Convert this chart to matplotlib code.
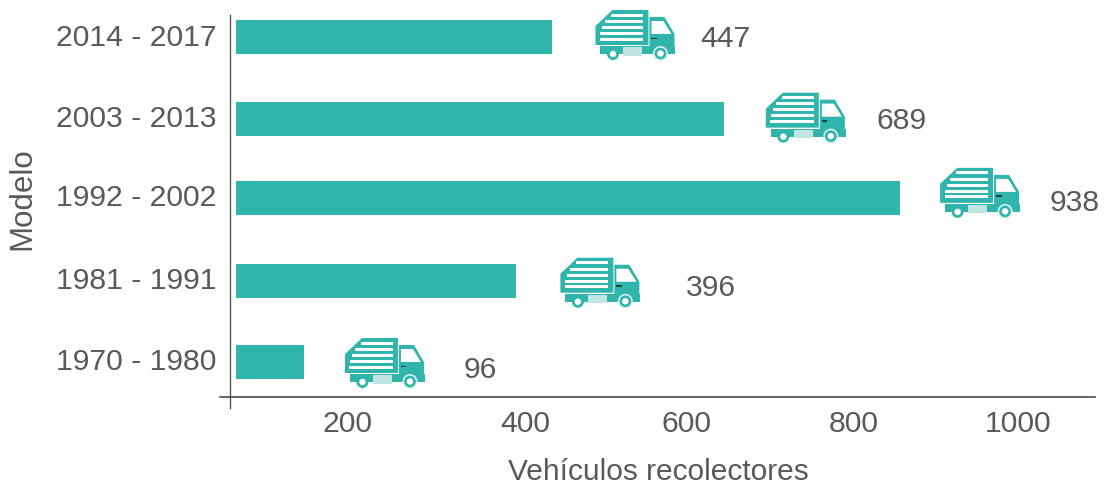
import matplotlib
matplotlib.use("Agg")
import matplotlib.pyplot as plt
from matplotlib.patches import Polygon, Circle, Rectangle
from matplotlib.transforms import Affine2D

# Data
modelos = ["1970 - 1980", "1981 - 1991", "1992 - 2002", "2003 - 2013", "2014 - 2017"]
vehiculos = [96, 396, 938, 689, 447]
tick_labels = ["200", "400", "600", "800", "1000"]
tick_pos = [157, 408, 636, 873, 1105]  # the reference's tick labels sit at these scale positions

# Style / layout (pixels)
W, H = 1104, 484
TEAL = "#2fb5ab"
TXT = "#58595b"
PX_PER_UNIT = 0.708
X_ZERO_PX = 236
truck_dx = [41, 44, 40, 42, 43]
truck_dy = [-24, -23, -30, -26, -27]
label_dx = [176, 195, 175, 178, 173]
label_dy = [5, 4, 2, 0, 1]
bar_slots = [0, 1, 2.02, 2.995, 4]  # slightly uneven vertical spacing in the reference
label_dy = [6, 5, 3, 0, 0]

plt.rcParams["font.family"] = ["Liberation Sans", "DejaVu Sans"]
fig = plt.figure(figsize=(W / 100, H / 100), dpi=100)
L, R, T, B = 220, 1095, 15, 408
ax = fig.add_axes([L / W, 1 - B / H, (R - L) / W, (B - T) / H])
ax.set_xlim((L - X_ZERO_PX) / PX_PER_UNIT, (R - X_ZERO_PX) / PX_PER_UNIT)
YS = 81.25
Y0 = 362
ax.set_ylim((Y0 - B) / YS, (Y0 - T) / YS)
ax.barh(bar_slots, vehiculos, height=34 / YS, color=TEAL, left=0)

for s in ("top", "right"):
    ax.spines[s].set_visible(False)
ax.spines["left"].set_position(("data", (229.8 - X_ZERO_PX) / PX_PER_UNIT))
ax.spines["bottom"].set_position(("data", (Y0 - 397) / YS))
ax.spines["left"].set_color("#4a4a4a")
ax.spines["left"].set_linewidth(0.9)
ax.spines["bottom"].set_color("#4a4a4a")
ax.spines["bottom"].set_linewidth(1.2)

ax.set_yticks(bar_slots, modelos)
ax.set_xticks(tick_pos, tick_labels)
ax.tick_params(axis="y", length=0, pad=9.5, labelsize=21.7, labelcolor=TXT)
ax.tick_params(axis="x", length=0, pad=9.5, labelsize=21.7, labelcolor=TXT)
for t in ax.get_yticklabels():
    t.set_transform(t.get_transform() + Affine2D().translate(0, 2.5))
ax.set_xlabel("Vehículos recolectores", fontsize=21.5, color=TXT, va="center", ha="center")
ax.xaxis.set_label_coords(658 / W, 1 - 472 / H, transform=fig.transFigure)
ax.set_ylabel("Modelo", fontsize=22.5, color=TXT, va="center", ha="center")
ax.yaxis.set_label_coords(22 / W, 1 - 199 / H, transform=fig.transFigure)


def truck(x0, y0):
    """Draw the truck icon with its top-left at display pixel (x0, y0-from-top)."""
    tr = Affine2D().scale(1, -1).translate(x0, y0)
    def P(pts, **k):
        ax.add_patch(Polygon(pts, closed=True, transform=tr, clip_on=False, lw=0, **k))
    def C(c, r, col):
        ax.add_patch(Circle(c, r, transform=tr, clip_on=False, lw=0, color=col, zorder=3))
    P([(0, 16), (17, 0), (53, 0), (53, 35), (0, 35)], color=TEAL, zorder=3)
    for yy, xs in zip([5, 11.3, 17.3, 23.3, 29], [16, 10, 7, 5, 4.5]):
        ax.add_patch(Rectangle((xs, yy - 1.5), 48 - xs, 3, transform=tr, color="white", lw=0, zorder=4, clip_on=False))
    P([(5, 36), (80, 36), (80, 44), (5, 44)], color=TEAL, zorder=3)
    P([(54, 7), (69, 7), (79, 24), (79, 43), (54, 43)], color=TEAL, zorder=3)
    P([(56, 11), (68, 11), (76, 24), (56, 24)], color="white", zorder=4)
    P([(56, 27.5), (61.5, 27.5), (61.5, 29), (56, 29)], color="#12403c", zorder=4)
    ax.add_patch(Rectangle((28, 37), 19, 8.5, transform=tr, color="#bfe6e2", lw=0, zorder=4, clip_on=False))
    C((17.5, 44), 6, TEAL)
    C((17.5, 44), 3.2, "white")
    C((65, 43.5), 7.5, "#d5f0ed")
    C((65, 43.5), 5.8, TEAL)
    C((65, 43.5), 3.2, "white")


fig.canvas.draw()
for i, v in enumerate(vehiculos):
    px, py = ax.transData.transform((v, bar_slots[i]))
    truck(px + truck_dx[i], py - truck_dy[i])
    ax.text(px + label_dx[i], py - label_dy[i] - 2, str(v), transform=None,
            fontsize=21.7, color=TXT, ha="center", va="center")

fig.savefig("out.png", dpi=100, facecolor="white")
